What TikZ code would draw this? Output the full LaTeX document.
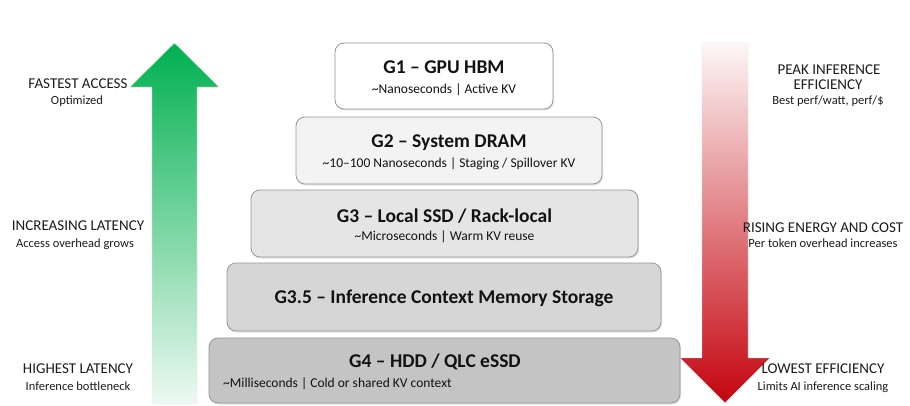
\documentclass[tikz,border=0pt]{standalone}
\usepackage{fontspec}
\setmainfont{Carlito}
\usetikzlibrary{shadows}

\definecolor{arrowgreen}{RGB}{0,176,80}
\definecolor{greenfade}{RGB}{238,249,242}
\definecolor{arrowred}{RGB}{196,4,14}
\definecolor{redfade}{RGB}{253,247,247}
\definecolor{tierline}{RGB}{150,150,150}
\definecolor{tierA}{RGB}{255,255,255}
\definecolor{tierB}{RGB}{243,243,243}
\definecolor{tierC}{RGB}{229,229,229}
\definecolor{tierD}{RGB}{214,214,214}
\definecolor{tierE}{RGB}{196,196,196}
\definecolor{inktext}{RGB}{18,18,18}
\definecolor{sidetext}{RGB}{28,28,28}

\tikzset{
  tier/.style={draw=tierline, line width=0.8pt, rounded corners=9pt,
    drop shadow={opacity=0.22, shadow xshift=1pt, shadow yshift=-1.5pt}},
  tiertitle/.style={anchor=base, inner sep=0pt, text=inktext,
    font=\fontsize{19.5}{22}\selectfont\bfseries},
  tiersub/.style={anchor=base, inner sep=0pt, text=inktext,
    font=\fontsize{13.5}{16}\selectfont},
  sidehead/.style={anchor=base, inner sep=0pt, text=sidetext,
    font=\fontsize{15}{18}\selectfont},
  sidesub/.style={anchor=base, inner sep=0pt, text=sidetext,
    font=\fontsize{12.5}{15}\selectfont},
}

\begin{document}
\begin{tikzpicture}[x=1pt,y=-1pt]
\useasboundingbox (0,0) rectangle (910,405);
\fill[white] (0,0) rectangle (910,405);

% rising green arrow (latency scale)
\shade[top color=arrowgreen, bottom color=greenfade, draw=black!8, line width=0.4pt]
  (152,404) -- (152,87) -- (130,87) -- (174.5,43) -- (219,87) -- (197,87) -- (197,404) -- cycle;

% falling red arrow (efficiency scale)
\shade[top color=redfade, bottom color=arrowred, draw=black!10, line width=0.4pt]
  (702,43) -- (748,43) -- (748,358) -- (770,358) -- (725,403) -- (680,358) -- (702,358) -- cycle;

% memory tiers
\node[tier, fill=tierA, minimum width=218pt, minimum height=66pt] (g1) at (444,76) {};
\node[tier, fill=tierB, minimum width=306pt, minimum height=67pt] (g2) at (449,150.5) {};
\node[tier, fill=tierC, minimum width=387pt, minimum height=67pt] (g3) at (444.5,223.5) {};
\node[tier, fill=tierD, minimum width=434pt, minimum height=68pt] (g35) at (444,297) {};
\node[tier, fill=tierE, minimum width=471pt, minimum height=65pt] (g4) at (444.5,370.5) {};

\node[tiertitle] (g1t) at (444,73) {G1 – GPU HBM};
\node[tiersub]   (g1s) at (444,93) {\textasciitilde Nanoseconds | Active KV};
\node[tiertitle] (g2t) at (449,147) {G2 – System DRAM};
\node[tiersub]   (g2s) at (449,167) {\textasciitilde 10–100 Nanoseconds | Staging / Spillover KV};
\node[tiertitle] (g3t) at (444.5,222) {G3 – Local SSD / Rack-local};
\node[tiersub]   (g3s) at (444.5,240) {\textasciitilde Microseconds | Warm KV reuse};
\node[tiertitle] (g35t) at (444,303) {G3.5 – Inference Context Memory Storage};
\node[tiertitle] (g4t) at (435,367) {G4 – HDD / QLC eSSD};
\node[tiersub, anchor=base west] (g4s) at (223,387) {\textasciitilde Milliseconds | Cold or shared KV context};

% left column
\node[sidehead] (fa)  at (78,88)  {FASTEST ACCESS};
\node[sidesub]  (fas) at (77,104) {Optimized};
\node[sidehead] (il)  at (78,230) {INCREASING LATENCY};
\node[sidesub]  (ils) at (75,247) {Access overhead grows};
\node[sidehead] (hl)  at (78,373) {HIGHEST LATENCY};
\node[sidesub]  (hls) at (78,390) {Inference bottleneck};

% right column
\node[sidehead] (pi)  at (829,74)  {PEAK INFERENCE};
\node[sidehead] (pie) at (828,89)  {EFFICIENCY};
\node[sidesub]  (pis) at (828,104) {Best perf/watt, perf/\$};
\node[sidehead] (re)  at (823,232) {RISING ENERGY AND COST};
\node[sidesub]  (res) at (823,247) {Per token overhead increases};
\node[sidehead] (le)  at (823,373) {LOWEST EFFICIENCY};
\node[sidesub]  (les) at (823,390) {Limits AI inference scaling};
\end{tikzpicture}
\end{document}
